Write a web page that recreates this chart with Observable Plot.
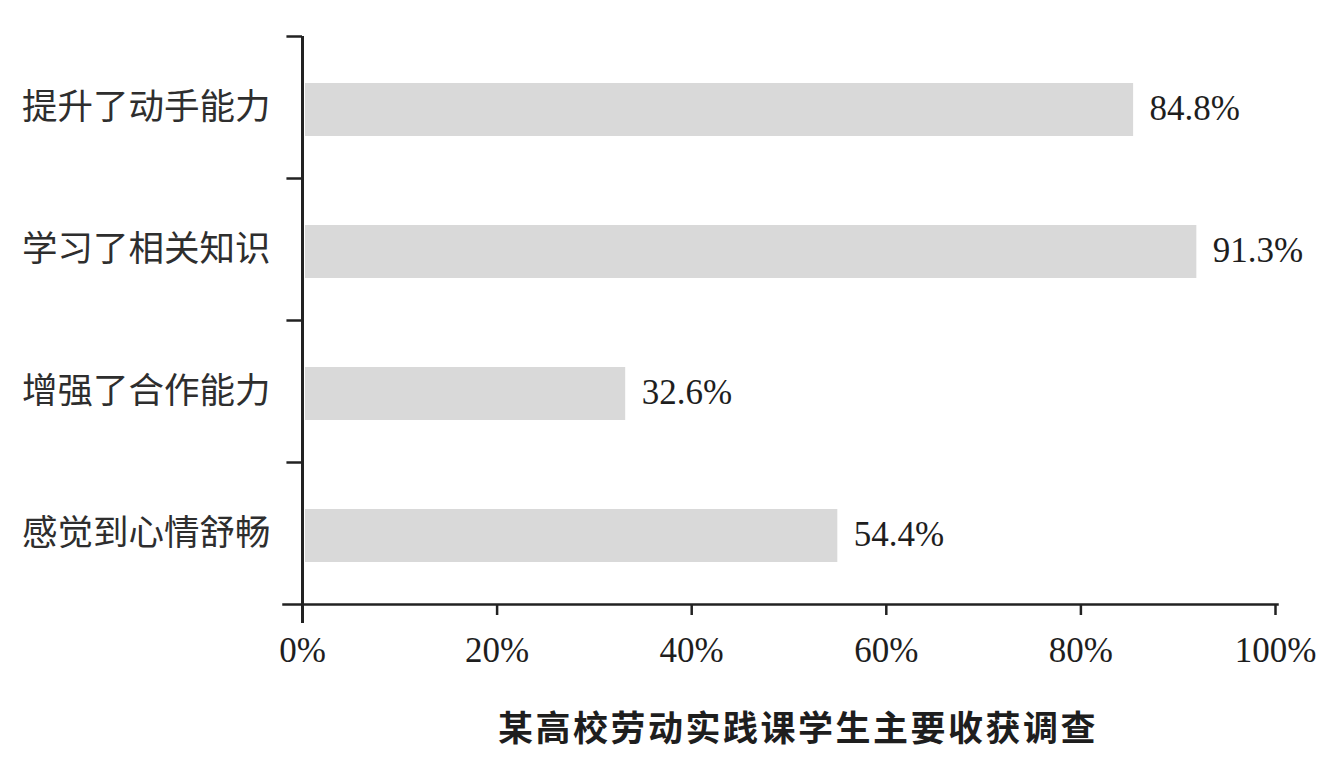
<!DOCTYPE html>
<html>
<head>
<meta charset="utf-8">
<script src="https://cdn.jsdelivr.net/npm/d3@7"></script>
<script src="https://cdn.jsdelivr.net/npm/@observablehq/plot@0.6"></script>
<style>
  html, body { margin: 0; padding: 0; background: #fff; }
  #chart { width: 1344px; height: 768px; position: relative; }
  #title { position: absolute; left: 0; width: 1344px; top: 700px; text-align: center;
    padding-left: 252px; box-sizing: border-box;
    font-family: "Noto Sans CJK SC", sans-serif; font-weight: 700; font-size: 35px; color: #1e1e1e; letter-spacing: 2.5px; }
</style>
</head>
<body>
<div id="chart"></div>
<script>
const categories = ["提升了动手能力", "学习了相关知识", "增强了合作能力", "感觉到心情舒畅"];
const values = [84.8, 91.3, 32.6, 54.4];
const xTicks = [0, 20, 40, 60, 80, 100];
const titleText = "某高校劳动实践课学生主要收获调查";

const data = categories.map((c, i) => ({category: c, value: values[i], label: values[i].toFixed(1) + "%"}));

const W = 1344, H = 690;
const mTop = 36, mBottom = 86;
const bandH = (H - mTop - mBottom) / categories.length;

const plot = Plot.plot({
  width: W,
  height: H,
  marginLeft: 302,
  marginRight: 69,
  marginTop: mTop,
  marginBottom: mBottom,
  style: {background: "#fff", overflow: "visible"},
  x: {domain: [0, 100]},
  y: {domain: categories, padding: 0},
  marks: [
    Plot.barX(data, {
      y: "category", x1: 0, x2: "value",
      fill: "#d9d9d9",
      insetTop: 47, insetBottom: 42, insetLeft: 3, insetRight: -6
    }),
    Plot.text(data, {
      y: "category", x: "value", text: "label",
      textAnchor: "start", dx: 22, dy: 1,
      fontFamily: "Liberation Serif, Times New Roman, serif",
      fontSize: 35, fill: "#1e1e1e"
    }),
    // band separator ticks on the y axis
    Plot.ruleY(categories, {
      y: d => d, x1: -1.6, x2: 0, dy: -bandH / 2,
      stroke: "#222", strokeWidth: 2.5
    }),
    Plot.ruleX([0], {stroke: "#222", strokeWidth: 3, insetBottom: -19}),
    Plot.frame({anchor: "bottom", stroke: "#222", strokeWidth: 2.5, insetLeft: -19, insetRight: -2}),
    Plot.axisX({
      ticks: xTicks, tickFormat: d => d + "%", tickSize: 11, tickPadding: 22,
      tickWidth: 2.5, stroke: "#222", strokeWidth: 2.5,
      fontFamily: "Liberation Serif, Times New Roman, serif",
      fontSize: 35, fill: "#1e1e1e", label: null
    }),
    Plot.axisY({
      tickSize: 0, tickPadding: 32,
      fontFamily: "Noto Sans CJK SC, sans-serif",
      fontSize: 35.5, fill: "#2e2e2e", label: null
    })
  ]
});

document.getElementById("chart").appendChild(plot);
const t = document.createElement("div");
t.id = "title";
t.textContent = titleText;
document.getElementById("chart").appendChild(t);
</script>
</body>
</html>
